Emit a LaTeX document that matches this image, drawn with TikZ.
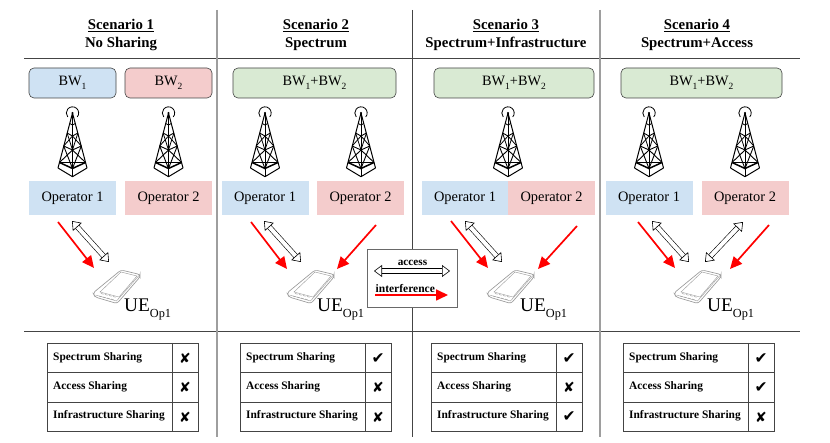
\documentclass[tikz,border=0pt]{standalone}
\usepackage{fontspec}
\setmainfont{Liberation Serif}
\newfontfamily\symfont{DejaVu Sans}
\usetikzlibrary{arrows.meta}
\definecolor{opblue}{HTML}{CFE2F3}
\definecolor{oppink}{HTML}{F4CCCC}
\definecolor{bwgreen}{HTML}{D9EAD3}
\definecolor{rulegray}{HTML}{9E9E9E}
\definecolor{ruledark}{HTML}{444444}
\definecolor{phonegray}{HTML}{9A9A9A}
\newcommand\sbw[1]{BW\raisebox{-3.5pt}{\fontsize{9.5}{9.5}\selectfont #1}}
\newcommand\yes{{\symfont\fontsize{15.5}{15}\selectfont ✔}}
\newcommand\no{{\symfont\fontsize{14}{14}\selectfont ✘}}
\tikzset{
  x=1pt,y=-1pt,
  inner sep=0pt,
  title/.style={font=\fontsize{14.8}{18}\selectfont\bfseries,align=center},
  bwbox/.style={draw=ruledark,line width=.6pt,rounded corners=5pt,minimum height=30pt,font=\fontsize{14.3}{16}\selectfont},
  opbox/.style={minimum height=34pt,minimum width=87pt,font=\fontsize{14.4}{16}\selectfont},
  redarrow/.style={draw=red,line width=1.7pt,-{Triangle[length=12pt,width=11pt]}},
  accessarrow/.style={double,double distance=4pt,line width=.6pt,draw=black,
    {Triangle[length=8pt,width=12pt,fill=white,line width=.6pt]}-{Triangle[length=8pt,width=12pt,fill=white,line width=.6pt]}},
  tablelabel/.style={font=\fontsize{11.4}{13}\selectfont\bfseries,anchor=west},
  uelabel/.style={font=\fontsize{19.3}{20}\selectfont,anchor=west},
  grid/.style={draw=ruledark,line width=.7pt},
  divider/.style={draw=rulegray,line width=1.1pt},
  thinrule/.style={draw=ruledark,line width=.7pt},
  antenna/.pic={
    % rings and mast tip
    \fill (0,0) circle (1.2pt);
    \draw[line width=.8pt] (0,0) ++(-40:6.2pt) arc[start angle=-40,end angle=220,radius=6.2pt];
    % legs
    \draw[line width=1pt,line join=round] (-14.5,55) -- (0,0) -- (14.5,55);
    \draw[line width=1pt,line join=round] (0,0) -- (0,63.7);
    \draw[line width=1pt,line join=round] (-14.5,55) -- (0,63.7) -- (14.5,55);
    % belts
    \draw[line width=1.5pt] (-13,49.5) -- (0,55.5) -- (13,49.5);
    \draw[line width=.8pt] (-13,49.5) -- (13,49.5);
    \draw[line width=.9pt] (-8.8,33) -- (0,37) -- (8.8,33);
    \draw[line width=.9pt] (-5.4,20) -- (0,23) -- (5.4,20);
    \draw[line width=.8pt] (-2.8,10.5) -- (0,12) -- (2.8,10.5);
    % cross bracing
    \draw[line width=.9pt] (-13,49.5) -- (0,37) -- (13,49.5);
    \draw[line width=.9pt] (-8.8,33) -- (0,55.5) -- (8.8,33);
    \draw[line width=.8pt] (-8.8,33) -- (0,23) -- (8.8,33);
    \draw[line width=.8pt] (-5.4,20) -- (0,37) -- (5.4,20);
  },
  handset/.pic={
    % body, screen and keypad of the phone, origin at its top-left extent
    \draw[phonegray,line width=.65pt,rounded corners=2.5pt,fill=white]
      (28,0) -- (47,4.5) -- (47,7) -- (24,33.5) -- (2,27) -- (0,23) -- cycle;
    \draw[phonegray,line width=.4pt] (28,2) -- (44,6) -- (26,27) -- (7,22) -- cycle;
    \draw[phonegray,line width=.4pt] (2.5,25) -- (23.5,31) -- (46,5.5);
    \foreach \kx/\ky in {8/23.5,12/24.5,16/25.5,20/26.5,6/26,10/27,14/28,18/29}
      \draw[phonegray,line width=.5pt] (\kx,\ky) -- ++(2.6,.7);
  },
}
% One row of a scorecard: node name, left edge, baseline height, label, mark
\newcommand\cardrow[5]{%
  \node[tablelabel] (#1) at (#2+6,#3) {#4};
  \node (#1m) at (#2+138,#3+1) {#5};
}
\newcommand\scorecard[5]{%
  \draw[grid] (#2,343) rectangle (#2+151,431);
  \draw[grid] (#2,372.5) -- (#2+151,372.5);
  \draw[grid] (#2,402) -- (#2+151,402);
  \draw[grid] (#2+125,343) -- (#2+125,431);
  \cardrow{#1a}{#2}{357.5}{Spectrum Sharing}{#3}
  \cardrow{#1b}{#2}{386.5}{Access Sharing}{#4}
  \cardrow{#1c}{#2}{416}{Infrastructure Sharing}{#5}
}
\newcommand\uetext{UE\raisebox{-6pt}{\fontsize{12.3}{13}\selectfont Op1}}
\begin{document}
\begin{tikzpicture}
\useasboundingbox (0,0) rectangle (830,443);
\fill[white] (0,0) rectangle (830,443);

% section rules
\coordinate (hl1) at (24,58); \coordinate (hr1) at (800,58);
\coordinate (hl2) at (24,331); \coordinate (hr2) at (800,331);
\draw[thinrule] (hl1) -- (hr1);
\draw[thinrule] (hl2) -- (hr2);
\draw[divider] (217,10) -- (217,437);
\draw[thinrule] (412,10) -- (412,437);
\draw[divider] (600,10) -- (600,437);

% scenario titles
\node[title] (s1) at (121,35) {\underline{Scenario 1}\\No Sharing};
\node[title] (s2) at (316,35) {\underline{Scenario 2}\\Spectrum};
\node[title] (s3) at (506,35) {\underline{Scenario 3}\\Spectrum+Infrastructure};
\node[title] (s4) at (697,35) {\underline{Scenario 4}\\Spectrum+Access};

% bandwidth blocks
\node[bwbox,fill=opblue,minimum width=87pt] (bw11) at (72.5,83) {\sbw{1}};
\node[bwbox,fill=oppink,minimum width=87pt] (bw12) at (168.5,83) {\sbw{2}};
\node[bwbox,fill=bwgreen,minimum width=163pt] (bw2) at (314.5,83) {\sbw{1}+\sbw{2}};
\node[bwbox,fill=bwgreen,minimum width=160pt] (bw3) at (514,83) {\sbw{1}+\sbw{2}};
\node[bwbox,fill=bwgreen,minimum width=161pt] (bw4) at (701.5,83) {\sbw{1}+\sbw{2}};

% towers
\foreach \tx in {72.5,168.5,265,361,508,649,745}
  \pic at (\tx,113) {antenna};

% operators
\node[opbox,fill=opblue] (op11) at (72.5,198) {Operator 1};
\node[opbox,fill=oppink] (op12) at (168.5,198) {Operator 2};
\node[opbox,fill=opblue] (op21) at (265,198) {Operator 1};
\node[opbox,fill=oppink] (op22) at (360.5,198) {Operator 2};
\node[opbox,fill=opblue] (op31) at (465,198) {Operator 1};
\node[opbox,fill=oppink] (op32) at (551.5,198) {Operator 2};
\node[opbox,fill=opblue] (op41) at (649,198) {Operator 1};
\node[opbox,fill=oppink] (op42) at (745,198) {Operator 2};

% handsets and their labels
\pic at (93,270) {handset};
\pic at (287,270) {handset};
\pic at (487,270) {handset};
\pic at (674,270) {handset};
\node[uelabel] (ue1) at (124,309) {\uetext};
\node[uelabel] (ue2) at (317,309) {\uetext};
\node[uelabel] (ue3) at (520,309) {\uetext};
\node[uelabel] (ue4) at (707,309) {\uetext};

% arrow end points
\coordinate (a1r) at (58,222);  \coordinate (b1r) at (94,268);
\coordinate (a1w) at (72,221);  \coordinate (b1w) at (109,262);
\coordinate (a2r) at (251,222); \coordinate (b2r) at (287,269);
\coordinate (a2w) at (264,221); \coordinate (b2w) at (301,262);
\coordinate (a2s) at (376,225); \coordinate (b2s) at (337,269);
\coordinate (a3r) at (451,221); \coordinate (b3r) at (488,268);
\coordinate (a3w) at (465,221); \coordinate (b3w) at (502,262);
\coordinate (a3s) at (577,226); \coordinate (b3s) at (538,269);
\coordinate (a4r) at (638,222); \coordinate (b4r) at (675,268);
\coordinate (a4w) at (652,221); \coordinate (b4w) at (689,262);
\coordinate (a4x) at (743,222); \coordinate (b4x) at (705,262);
\coordinate (a4s) at (769,225); \coordinate (b4s) at (730,269);

\draw[redarrow] (a1r) -- (b1r);
\draw[accessarrow] (a1w) -- (b1w);
\draw[redarrow] (a2r) -- (b2r);
\draw[accessarrow] (a2w) -- (b2w);
\draw[redarrow] (a2s) -- (b2s);
\draw[redarrow] (a3r) -- (b3r);
\draw[accessarrow] (a3w) -- (b3w);
\draw[redarrow] (a3s) -- (b3s);
\draw[redarrow] (a4r) -- (b4r);
\draw[accessarrow] (a4w) -- (b4w);
\draw[accessarrow] (a4x) -- (b4x);
\draw[redarrow] (a4s) -- (b4s);

% legend
\node[draw=ruledark!80,line width=.9pt,fill=white,minimum width=90pt,minimum height=58pt] (legend) at (412,278) {};
\node[font=\fontsize{11.2}{12}\selectfont\bfseries] (lacc) at (412.5,262.5) {access};
\coordinate (lal) at (374,271); \coordinate (lar) at (450,271);
\draw[accessarrow] (lal) -- (lar);
\node[font=\fontsize{11.5}{12}\selectfont\bfseries,anchor=west] (lint) at (375.5,288.5) {interference};
\coordinate (lrl) at (375,295); \coordinate (lrr) at (448,295);
\draw[redarrow] (lrl) -- (lrr);

% scorecards
\scorecard{c1}{47}{\no}{\no}{\no}
\scorecard{c2}{240}{\yes}{\no}{\no}
\scorecard{c3}{431}{\yes}{\no}{\yes}
\scorecard{c4}{623}{\yes}{\yes}{\no}
\end{tikzpicture}
\end{document}
